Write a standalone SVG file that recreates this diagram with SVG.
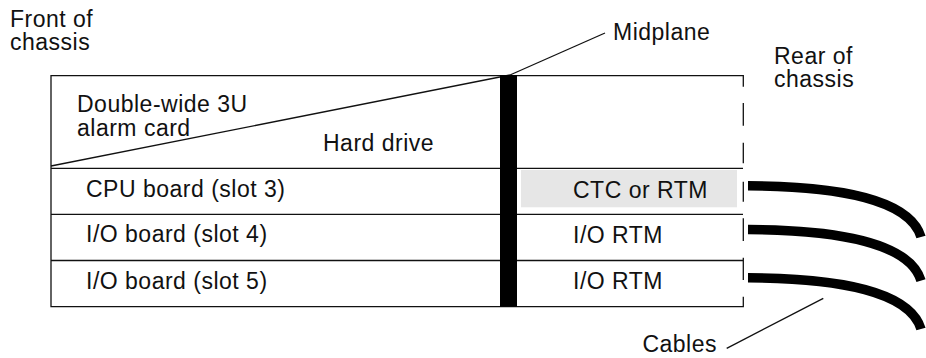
<svg xmlns="http://www.w3.org/2000/svg" width="926" height="358" viewBox="0 0 926 358">
  <style>
    text { font-family: "Liberation Sans", Arial, Helvetica, sans-serif; font-size: 23px; letter-spacing: 0.5px; fill: #111; }
    .ln { stroke: #111; stroke-width: 1.3; fill: none; }
    .cable { stroke: #000; stroke-width: 9.5; fill: none; stroke-linecap: butt; }
  </style>
  <defs>
    <path id="cablePath" d="M748,185.8 C840,186 910,200 921,237"/>
  </defs>
  <rect width="926" height="358" fill="#fff"/>

  <!-- chassis outline and slot dividers -->
  <g id="chassis">
    <path class="ln" d="M743.3,86.7 V75.7 H51 V306.7 H743.3 V296.7"/>
    <path class="ln" d="M51,168.3 H743 M51,214.3 H743 M51,260.5 H743"/>
    <!-- rear side of chassis is open (dashed edge) -->
    <path class="ln" d="M743.3,103 V125.7 M743.3,142.7 V163.3 M743.3,181.7 V201.7 M743.3,218.3 V241 M743.3,257.7 V280"/>
  </g>

  <g id="alarm-card">
    <line class="ln" x1="51" y1="166" x2="510" y2="75"/>
    <text x="77" y="111.5">Double-wide 3U</text>
    <text x="77" y="135.5">alarm card</text>
  </g>
  <g id="hard-drive">
    <text x="323" y="151">Hard drive</text>
  </g>

  <g id="cpu-board"><text x="86" y="197">CPU board (slot 3)</text></g>
  <g id="io-board-4"><text x="86" y="242">I/O board (slot 4)</text></g>
  <g id="io-board-5"><text x="86" y="288.5">I/O board (slot 5)</text></g>

  <g id="ctc-rtm">
    <rect x="521" y="170" width="216" height="37.3" fill="#e6e6e6"/>
    <text x="573" y="198.3">CTC or RTM</text>
  </g>
  <g id="io-rtm-1"><text x="573" y="242.7">I/O RTM</text></g>
  <g id="io-rtm-2"><text x="573" y="289.3">I/O RTM</text></g>

  <g id="midplane">
    <rect x="500" y="75" width="17" height="231.7" fill="#000"/>
  </g>

  <g id="labels">
    <text x="10" y="26.5">Front of</text>
    <text x="10" y="50">chassis</text>
    <text x="774" y="63.5">Rear of</text>
    <text x="774" y="87">chassis</text>
    <text x="613" y="40">Midplane</text>
    <text x="717" y="351.7" text-anchor="end">Cables</text>
  </g>

  <!-- cables leaving the rear transition modules -->
  <g id="cables">
    <use href="#cablePath" class="cable"/>
    <use href="#cablePath" class="cable" transform="translate(0,43.7)"/>
    <use href="#cablePath" class="cable" transform="translate(0,92)"/>
  </g>

  <!-- callout leaders -->
  <g id="connectors">
    <line class="ln" x1="510" y1="75" x2="605" y2="33"/>
    <line class="ln" x1="823.3" y1="298.3" x2="726.7" y2="348.3"/>
  </g>
</svg>
